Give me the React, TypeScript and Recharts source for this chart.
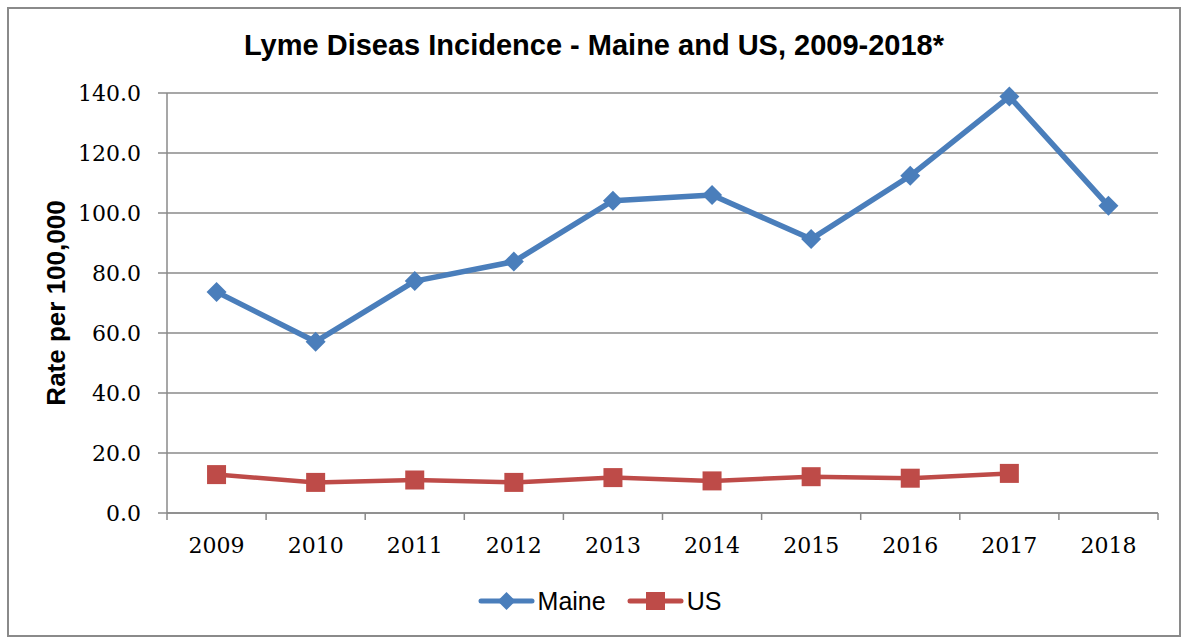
import { CartesianGrid, Label, Legend, Line, LineChart, XAxis, YAxis } from "recharts";

const years = ["2009", "2010", "2011", "2012", "2013", "2014", "2015", "2016", "2017", "2018"];
const maineRates = [73.7, 57.1, 77.3, 83.8, 104.1, 106.0, 91.3, 112.4, 138.8, 102.4];
const usRates = [12.8, 10.2, 11.0, 10.2, 11.8, 10.7, 12.1, 11.6, 13.2, null];
const yTicks = [0, 20, 40, 60, 80, 100, 120, 140];

const data = years.map((year, i) => ({ year, maine: maineRates[i], us: usRates[i] }));

const W = 1188;
const H = 640;
const LEGEND_H = 30;
// the legend's height is added to the bottom offset by recharts, so take it off here
const MARGIN = { top: 93, right: 30, bottom: 127 - LEGEND_H, left: 27 };
const Y_AXIS_W = 140;
const PLOT_W = W - MARGIN.left - Y_AXIS_W - MARGIN.right;
const HALF_BAND = PLOT_W / years.length / 2;

const MAINE_COLOR = "#4A7EBB";
const US_COLOR = "#BE4B48";
const AXIS = "#8a8a8a";
const SERIF = "'DejaVu Serif', serif";
const SANS = "'Liberation Sans', Arial, sans-serif";
const X_TICK_SIZE = 7;
const X_TICK_GAP = 17;

function diamondPath(cx: number, cy: number, r: number) {
  return `M${cx},${cy - r}L${cx + r},${cy}L${cx},${cy + r}L${cx - r},${cy}Z`;
}

function DiamondDot(props: any) {
  const { cx, cy, index } = props;
  if (cx == null || cy == null) return <g key={`m${index}`} />;
  return <path key={`m${index}`} d={diamondPath(cx, cy, 10)} fill={MAINE_COLOR} />;
}

function SquareDot(props: any) {
  const { cx, cy, index } = props;
  if (cx == null || cy == null) return <g key={`u${index}`} />;
  return <rect key={`u${index}`} x={cx - 9.5} y={cy - 9.5} width={19} height={19} fill={US_COLOR} />;
}

// year label plus Excel-style tick marks between the categories
function YearTick(props: any) {
  const { x, y, payload, index } = props;
  const axisY = y - X_TICK_SIZE - X_TICK_GAP;
  const left = x - HALF_BAND;
  const right = x + HALF_BAND;
  return (
    <g>
      <line x1={left} x2={left} y1={axisY} y2={axisY + X_TICK_SIZE} stroke={AXIS} strokeWidth={1.5} />
      {index === years.length - 1 && (
        <line x1={right} x2={right} y1={axisY} y2={axisY + X_TICK_SIZE} stroke={AXIS} strokeWidth={1.5} />
      )}
      <text x={x} y={y} dy="0.71em" textAnchor="middle" fill="#000" fontSize={22} fontFamily={SERIF}>
        {payload.value}
      </text>
    </g>
  );
}

function YTitle(props: any) {
  const vb = props.viewBox || {};
  const cx = (vb.x ?? MARGIN.left) + 29;
  const cy = (vb.y ?? MARGIN.top) + (vb.height ?? 420) / 2;
  return (
    <text
      x={cx}
      y={cy}
      transform={`rotate(-90 ${cx} ${cy})`}
      textAnchor="middle"
      dominantBaseline="central"
      fontFamily={SANS}
      fontWeight="bold"
      fontSize={26}
      fill="#000"
    >
      Rate per 100,000
    </text>
  );
}

function LegendContent(props: any) {
  const payload = props.payload ?? [];
  return (
    <div
      style={{ display: "flex", justifyContent: "center", alignItems: "center", height: LEGEND_H, paddingLeft: 11 }}
    >
      {payload.map((entry: any, i: number) => {
        const isMaine = entry.dataKey === "maine" || entry.value === "Maine";
        return (
          <div key={entry.value} style={{ display: "flex", alignItems: "center", marginRight: i === 0 ? 21 : 0 }}>
            <svg width={57} height={24}>
              <line x1={3} x2={54} y1={12} y2={12} stroke={entry.color} strokeWidth={5} strokeLinecap="round" />
              {isMaine ? (
                <path d={diamondPath(28.5, 12, 9)} fill={entry.color} />
              ) : (
                <rect x={19} y={3} width={19} height={18} fill={entry.color} />
              )}
            </svg>
            <span style={{ fontFamily: SANS, fontSize: 25, color: "#000", marginLeft: 3, lineHeight: "30px" }}>
              {entry.value}
            </span>
          </div>
        );
      })}
    </div>
  );
}

export default function App() {
  return (
    <div style={{ position: "fixed", left: 0, top: 0, width: W, height: H, background: "#fff" }}>
      <div
        style={{
          position: "absolute",
          left: 7,
          top: 7,
          width: 1174,
          height: 630,
          border: `2px solid ${AXIS}`,
          boxSizing: "border-box",
        }}
      />
      <div
        style={{
          position: "absolute",
          left: 0,
          top: 28,
          width: W,
          textAlign: "center",
          fontFamily: SANS,
          fontWeight: "bold",
          fontSize: 29,
          lineHeight: "34px",
          color: "#000",
          zIndex: 2,
        }}
      >
        Lyme Diseas Incidence - Maine and US, 2009-2018*
      </div>
      <div style={{ position: "absolute", left: 0, top: 0 }}>
        <LineChart width={W} height={H} data={data} margin={MARGIN}>
          <CartesianGrid vertical={false} stroke={AXIS} strokeWidth={1.3} />
          <XAxis
            dataKey="year"
            scale="band"
            interval={0}
            axisLine={{ stroke: AXIS, strokeWidth: 1.5 }}
            tickLine={false}
            tickSize={X_TICK_SIZE}
            tickMargin={X_TICK_GAP}
            tick={<YearTick />}
          />
          <YAxis
            width={Y_AXIS_W}
            domain={[0, 140]}
            ticks={yTicks}
            tickFormatter={(v: number) => v.toFixed(1)}
            axisLine={{ stroke: AXIS, strokeWidth: 1.5 }}
            tickLine={{ stroke: AXIS, strokeWidth: 1.5 }}
            tickSize={9}
            tickMargin={17}
            tick={{ fill: "#000", fontSize: 22, fontFamily: SERIF }}
            label={<Label content={YTitle} />}
          />
          <Legend
            verticalAlign="middle"
            align="center"
            content={LegendContent}
            wrapperStyle={{ top: 586, left: 0, width: W }}
          />
          <Line
            dataKey="maine"
            name="Maine"
            type="linear"
            stroke={MAINE_COLOR}
            strokeWidth={5.5}
            strokeLinejoin="round"
            dot={DiamondDot}
            activeDot={false}
            isAnimationActive={false}
          />
          <Line
            dataKey="us"
            name="US"
            type="linear"
            stroke={US_COLOR}
            strokeWidth={4.5}
            strokeLinejoin="round"
            dot={SquareDot}
            activeDot={false}
            isAnimationActive={false}
          />
        </LineChart>
      </div>
    </div>
  );
}
